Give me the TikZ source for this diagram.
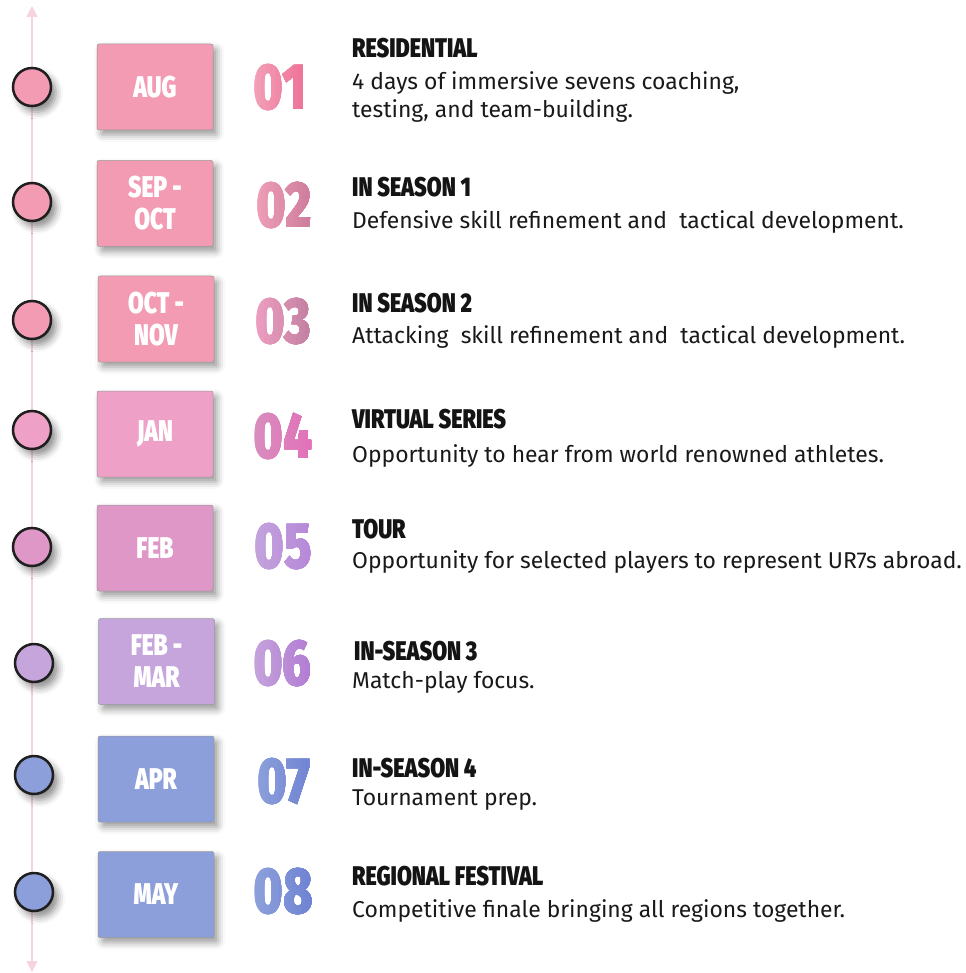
\documentclass[tikz,border=0pt]{standalone}
\usepackage{fontspec}
\usetikzlibrary{arrows.meta,shadows.blur}
\newfontfamily\bodyfont{Fira Sans}
\IfFontExistsTF{Fira Sans Black}
  {\newfontfamily\condfont[FakeStretch=0.76]{Fira Sans Black}%
   \newfontfamily\titlefont[FakeStretch=0.8]{Fira Sans Black}\def\condbf{}}
  {\newfontfamily\condfont[FakeStretch=0.8]{Fira Sans}%
   \newfontfamily\titlefont[FakeStretch=0.84]{Fira Sans}\def\condbf{\bfseries}}
\definecolor{axiscol}{HTML}{F6D3E0}
\definecolor{cPink}{HTML}{F29BB3}
\definecolor{cJan}{HTML}{EFA0C6}
\definecolor{cFeb}{HTML}{DE97C7}
\definecolor{cMar}{HTML}{C6A4DC}
\definecolor{cBlue}{HTML}{8C9FDA}
\definecolor{nA1}{HTML}{F3A3BA}\definecolor{nB1}{HTML}{EE6A92}
\definecolor{nA2}{HTML}{F0A0B8}\definecolor{nB2}{HTML}{C97898}
\definecolor{nA3}{HTML}{EFA0C2}\definecolor{nB3}{HTML}{BE7C9C}
\definecolor{nA4}{HTML}{D78EBE}\definecolor{nB4}{HTML}{E46EB8}
\definecolor{nA5}{HTML}{C4A4DC}\definecolor{nB5}{HTML}{B585D8}
\definecolor{nA6}{HTML}{C6A4DC}\definecolor{nB6}{HTML}{B078D2}
\definecolor{nA7}{HTML}{8EA2DC}\definecolor{nB7}{HTML}{6C80D2}
\definecolor{nA8}{HTML}{8EA2DC}\definecolor{nB8}{HTML}{6C80D2}
\tikzset{
  axis/.style={draw=axiscol, line width=1.6pt},
  monthbox/.style={rectangle, rounded corners=2pt, minimum width=116pt, minimum height=86pt,
    inner sep=0pt, draw=black!40, line width=0.5pt, text=white, align=center,
    font=\condfont\condbf\fontsize{30}{32}\selectfont,
    blur shadow={shadow xshift=4pt, shadow yshift=-5pt, shadow blur radius=7pt, shadow opacity=40}},
  dot/.style={circle, minimum size=38pt, inner sep=0pt, draw=black!88, line width=2.5pt,
    blur shadow={shadow xshift=5pt, shadow yshift=-6pt, shadow blur radius=7pt, shadow opacity=45}},
  num/.style={font=\condfont\condbf\fontsize{65}{65}\selectfont, inner sep=0pt, anchor=base},
  ttl/.style={font=\titlefont\condbf\fontsize{27}{30}\selectfont, anchor=base west, inner sep=0pt, text=black!92},
  dsc/.style={font=\bodyfont\fontsize{22.9}{28}\selectfont, anchor=base west, inner sep=0pt, align=left, text=black!90},
}
\newcommand\gradnum[6]{%
  \node[num, text=#4] (#1) at (#2,#3) {#6};
  \foreach \k in {1,...,14}{%
    \pgfmathsetmacro\p{100*\k/14}%
    \begin{scope}
      \clip (#2-32+\k*64/14, #3-60) rectangle (#2+45, #3+12);
      \node[num, text=#5!\p!#4] at (#2,#3) {#6};
    \end{scope}}}
\begin{document}
\begin{tikzpicture}[x=1pt, y=-1pt]
\useasboundingbox (0,0) rectangle (965,973);
% axis
\coordinate (axtop) at (32,6);
\coordinate (axbot) at (32,972);
\draw[axis, {Triangle[length=11pt,width=11pt]}-{Triangle[length=11pt,width=11pt]}] (axtop) -- (axbot);
% dots
\node[dot, fill=cPink] (c1) at (32,87) {};
\node[dot, fill=cPink] (c2) at (32,202) {};
\node[dot, fill=cPink] (c3) at (32,320) {};
\node[dot, fill=cJan]  (c4) at (32,430) {};
\node[dot, fill=cFeb]  (c5) at (32,547) {};
\node[dot, fill=cMar]  (c6) at (34,663) {};
\node[dot, fill=cBlue] (c7) at (34,775) {};
\node[dot, fill=cBlue] (c8) at (34,892) {};
% month boxes
\node[monthbox, fill=cPink] (b1) at (155,87) {AUG};
\node[monthbox, fill=cPink] (b2) at (155,203.5) {SEP -\\OCT};
\node[monthbox, fill=cPink] (b3) at (156,319) {OCT -\\NOV};
\node[monthbox, fill=cJan]  (b4) at (155,434) {JAN};
\node[monthbox, fill=cFeb]  (b5) at (155,548) {FEB};
\node[monthbox, fill=cMar]  (b6) at (156.5,661.5) {FEB -\\MAR};
\node[monthbox, fill=cBlue] (b7) at (156,779) {APR};
\node[monthbox, fill=cBlue] (b8) at (156,894.5) {MAY};
% numbers
\gradnum{n1}{280}{110}{nA1}{nB1}{01}
\gradnum{n2}{284}{228}{nA2}{nB2}{02}
\gradnum{n3}{283}{343}{nA3}{nB3}{03}
\gradnum{n4}{283}{458}{nA4}{nB4}{04}
\gradnum{n5}{283}{568}{nA5}{nB5}{05}
\gradnum{n6}{282.5}{685}{nA6}{nB6}{06}
\gradnum{n7}{283.5}{803}{nA7}{nB7}{07}
\gradnum{n8}{283}{913}{nA8}{nB8}{08}
% titles
\node[ttl] (t1) at (352,58)  {RESIDENTIAL};
\node[ttl] (t2) at (352,197) {IN SEASON 1};
\node[ttl] (t3) at (352,312) {IN SEASON 2};
\node[ttl] (t4) at (352,428) {VIRTUAL SERIES};
\node[ttl] (t5) at (352,538) {TOUR};
\node[ttl] (t6) at (354,660) {IN-SEASON 3};
\node[ttl] (t7) at (352,777) {IN-SEASON 4};
\node[ttl] (t8) at (352,885) {REGIONAL FESTIVAL};
% descriptions
\node[dsc] (d1) at (352,118) {4 days of immersive sevens coaching,\\testing, and team-building.};
\node[dsc] (d2) at (352,229) {Defensive skill refinement and\ \ tactical development.};
\node[dsc] (d3) at (352,343) {Attacking\ \ skill refinement and\ \ tactical development.};
\node[dsc] (d4) at (352,462) {Opportunity to hear from world renowned athletes.};
\node[dsc] (d5) at (352,568) {Opportunity for selected players to represent UR7s abroad.};
\node[dsc] (d6) at (352,688) {Match-play focus.};
\node[dsc] (d7) at (352,805) {Tournament prep.};
\node[dsc] (d8) at (352,917) {Competitive finale bringing all regions together.};
\end{tikzpicture}
\end{document}
